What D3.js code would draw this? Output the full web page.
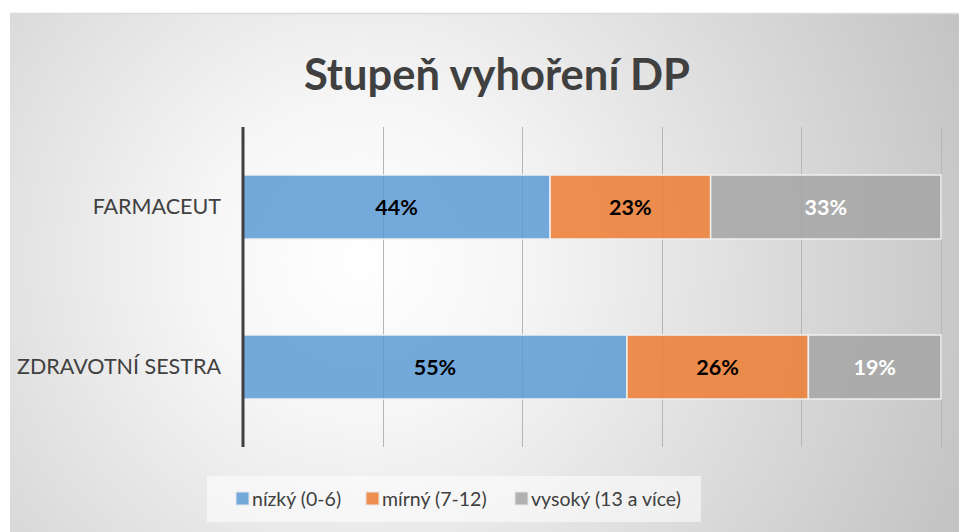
<!DOCTYPE html>
<html>
<head>
<meta charset="utf-8">
<script src="https://cdn.jsdelivr.net/npm/d3@7"></script>
<style>
  body { margin: 0; background: #fff; }
  svg text { font-family: Lato, "Open Sans", sans-serif; }
</style>
</head>
<body>
<div id="graf"></div>
<script>
// data
const kategorie = ["FARMACEUT", "ZDRAVOTNÍ SESTRA"];
const rady = ["nízký (0-6)", "mírný (7-12)", "vysoký (13 a více)"];
const nizky = [44, 55];
const mirny = [23, 26];
const vysoky = [33, 19];
const barvy = ["#5b9bd5", "#ed7d31", "#a5a5a5"];
const barvyPopisku = ["#000", "#000", "#fff"];
const osaTicks = [0, 20, 40, 60, 80, 100];

const graficar = () => {
  const width = 959, height = 532;
  const marginLeft = 243, marginRight = 18, marginTop = 127, marginBottom = 85;

  const svg = d3.select("#graf").append("svg")
    .attr("width", width)
    .attr("height", height);

  // pozadi - radialni gradient
  const defs = svg.append("defs");
  const grad = defs.append("radialGradient")
    .attr("id", "pozadi")
    .attr("gradientUnits", "userSpaceOnUse")
    .attr("cx", 360).attr("cy", 260).attr("r", 640);
  grad.append("stop").attr("offset", "0").attr("stop-color", "#ffffff");
  grad.append("stop").attr("offset", "0.25").attr("stop-color", "#f6f6f6");
  grad.append("stop").attr("offset", "1").attr("stop-color", "#c4c4c4");

  svg.append("rect")
    .attr("x", 10).attr("y", 13)
    .attr("width", width - 10).attr("height", height - 13)
    .attr("fill", "url(#pozadi)");
  svg.append("line")
    .attr("x1", 10).attr("x2", width)
    .attr("y1", 13.5).attr("y2", 13.5)
    .attr("stroke", "#dadada").attr("stroke-width", 1.5);

  // titulek
  svg.append("text")
    .attr("x", 497).attr("y", 90)
    .attr("text-anchor", "middle")
    .attr("font-size", 43.5)
    .attr("font-weight", "bold")
    .attr("fill", "#404040")
    .text("Stupeň vyhoření DP");

  // scales
  const xScale = d3.scaleLinear().domain([0, 100]).range([marginLeft, width - marginRight]);
  const yScale = d3.scaleBand().domain(kategorie)
    .range([marginTop, height - marginBottom])
    .paddingInner(0.6).paddingOuter(0.3);

  // mrizka
  svg.append("g")
    .selectAll("line")
    .data(osaTicks.slice(1))
    .join("line")
    .attr("x1", d => Math.round(xScale(d)) + 0.5)
    .attr("x2", d => Math.round(xScale(d)) + 0.5)
    .attr("y1", marginTop).attr("y2", height - marginBottom)
    .attr("stroke", "#b5b5b5").attr("stroke-width", 1);

  // stack
  const tabulka = kategorie.map((k, i) => ({ kat: k, 0: nizky[i], 1: mirny[i], 2: vysoky[i] }));
  const stack = d3.stack().keys([0, 1, 2])(tabulka);

  const vrstvy = svg.append("g").selectAll("g")
    .data(stack)
    .join("g")
    .attr("fill", (d, i) => barvy[i]);

  vrstvy.selectAll("rect")
    .data(d => d)
    .join("rect")
    .attr("x", d => xScale(d[0]))
    .attr("y", d => yScale(d.data.kat))
    .attr("width", d => xScale(d[1]) - xScale(d[0]))
    .attr("height", yScale.bandwidth())
    .attr("fill-opacity", 0.85)
    .attr("stroke", "#f0f0f0")
    .attr("stroke-width", 1.5);

  // popisky dat
  stack.forEach((vrstva, i) => {
    svg.append("g").selectAll("text")
      .data(vrstva)
      .join("text")
      .attr("x", d => (xScale(d[0]) + xScale(d[1])) / 2)
      .attr("y", d => yScale(d.data.kat) + yScale.bandwidth() / 2)
      .attr("dy", "0.35em")
      .attr("text-anchor", "middle")
      .attr("font-size", 21.5)
      .attr("font-weight", "bold")
      .attr("fill", barvyPopisku[i])
      .text(d => (d[1] - d[0]) + "%");
  });

  // osa y (kategorie)
  const yAxis = d3.axisLeft(yScale).tickSize(0).tickPadding(22);
  const gy = svg.append("g")
    .attr("transform", `translate(${marginLeft},0)`)
    .call(yAxis);
  gy.select(".domain").remove();
  gy.selectAll("text")
    .attr("font-size", 21.5)
    .attr("fill", "#404040")
    .style("font-family", "Lato, sans-serif");

  svg.append("line")
    .attr("x1", marginLeft).attr("x2", marginLeft)
    .attr("y1", marginTop).attr("y2", height - marginBottom)
    .attr("stroke", "#404040").attr("stroke-width", 3);

  // legenda
  svg.append("rect")
    .attr("x", 207).attr("y", 476)
    .attr("width", 494).attr("height", 46)
    .attr("fill", "#fff").attr("fill-opacity", 0.55);

  const legendX = [236, 366, 515];
  const leg = svg.append("g").selectAll("g")
    .data(rady)
    .join("g")
    .attr("transform", (d, i) => `translate(${legendX[i]},492)`);
  leg.append("rect")
    .attr("width", 13).attr("height", 13)
    .attr("fill", (d, i) => barvy[i])
    .attr("fill-opacity", 0.85)
    .attr("stroke", "#e6e6e6");
  leg.append("text")
    .attr("x", 16).attr("y", 7)
    .attr("dy", "0.35em")
    .attr("font-size", 19.5)
    .attr("fill", "#404040")
    .text(d => d);
};

graficar();
</script>
</body>
</html>
